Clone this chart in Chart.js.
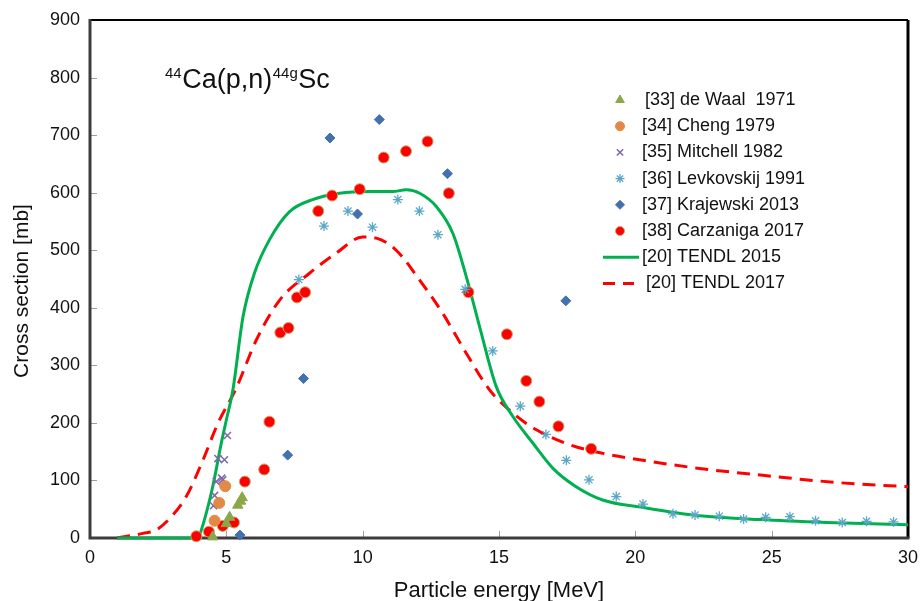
<!DOCTYPE html>
<html>
<head>
<meta charset="utf-8">
<title>44Ca(p,n)44gSc cross section</title>
<script src="https://cdn.jsdelivr.net/npm/chart.js@4.4.1/dist/chart.umd.min.js"></script>
<style>
  html, body { margin: 0; padding: 0; background: #fff; }
  #wrap { width: 921px; height: 601px; position: relative; }
</style>
</head>
<body>
<div id="wrap"><canvas id="xsChart"></canvas></div>
<script>
// tick labels
const energyTicks = [0, 5, 10, 15, 20, 25, 30];
const sigmaTicks = [0, 100, 200, 300, 400, 500, 600, 700, 800, 900];

// [33] de Waal 1971
const deWaalE = [4.50, 5.00, 5.12, 5.42, 5.52, 5.58];
const deWaalS = [2, 25, 36, 57, 64, 70];

// [34] Cheng 1979
const chengE = [4.57, 4.74, 4.96];
const chengS = [30, 61, 90];

// [35] Mitchell 1982
const mitchellE = [4.53, 4.57, 4.63, 4.83, 4.87, 4.69, 4.93, 5.04];
const mitchellS = [56, 74, 98, 104, 101, 138, 136, 178];

// [36] Levkovskij 1991
const levkE = [7.66, 8.58, 9.46, 10.36, 11.29, 12.08, 12.76, 13.76, 14.77, 15.78, 16.72, 17.47,
  18.30, 19.30, 20.28, 21.38, 22.19, 23.08, 23.97, 24.78, 25.67, 26.61, 27.59, 28.48, 29.47];
const levkS = [449, 542, 568, 540, 588, 568, 527, 432, 325, 229, 180, 135,
  101, 72, 59, 42, 40, 38, 33, 36, 37, 30, 27, 29, 28];

// [37] Krajewski 2013
const krajE = [5.50, 7.25, 7.83, 8.80, 9.81, 10.61, 13.11, 17.45];
const krajS = [5, 144, 277, 695, 563, 727, 633, 412];

// [38] Carzaniga 2017
const carzE = [3.90, 4.36, 4.87, 5.28, 5.68, 6.39, 6.58, 6.98, 7.28, 7.59, 7.89, 8.37,
  8.88, 9.89, 10.77, 11.59, 12.38, 13.16, 13.88, 15.29, 16.00, 16.48, 17.18, 18.38];
const carzS = [3, 11, 21, 27, 98, 119, 202, 357, 365, 418, 427, 568,
  595, 606, 661, 672, 689, 599, 427, 354, 273, 237, 194, 155];

// [20] TENDL 2015
const tendl15E = [1.0, 3.95, 4.04, 4.5, 4.79, 5.0, 5.24, 5.61, 6.03, 6.58, 7.32, 8.17, 9.15,
  10.25, 11.11, 11.6, 12.09, 12.7, 13.31, 13.8, 14.29, 14.9, 15.51, 16.24, 16.98, 17.8,
  18.8, 20.28, 22.1, 24.56, 27.0, 30.0];
const tendl15S = [0, 0, 8, 89, 159, 205, 257, 384, 460, 518, 567, 588, 599,
  602, 602, 605, 599, 576, 529, 454, 367, 263, 211, 165, 121, 90,
  66, 53, 40, 32, 27, 23];

// [20] TENDL 2017
const tendl17E = [1.0, 1.94, 2.43, 3.0, 3.53, 4.14, 4.69, 5.36, 6.1, 6.95, 8.05, 9.03, 10.0,
  10.5, 11.23, 12.09, 12.94, 13.8, 14.66, 15.51, 16.37, 17.59, 18.81, 20.16, 22.0, 25.05, 27.5, 30.0];
const tendl17S = [0, 8, 14, 38, 72, 135, 199, 260, 344, 413, 460, 495, 523,
  521, 500, 448, 390, 321, 257, 217, 188, 162, 147, 136, 123, 107, 96, 89];

const legendLabels = [
  '[33] de Waal  1971',
  '[34] Cheng 1979',
  '[35] Mitchell 1982',
  '[36] Levkovskij 1991',
  '[37] Krajewski 2013',
  '[38] Carzaniga 2017',
  '[20] TENDL 2015',
  '[20] TENDL 2017'
];

const fontFam = '"Liberation Sans", Arial, sans-serif';

function zip(xs, ys) {
  return xs.map((x, i) => ({ x: x, y: ys[i] }));
}

function pointSet(label, xs, ys, style, radius, fill, border, bw) {
  return {
    label: label,
    data: zip(xs, ys),
    pointStyle: style,
    pointRadius: radius,
    pointHoverRadius: radius,
    backgroundColor: fill,
    borderColor: border,
    pointBorderWidth: bw,
    showLine: false,
    clip: false,
    order: 0
  };
}

function lineSet(label, xs, ys, color, dash) {
  return {
    label: label,
    data: zip(xs, ys),
    showLine: true,
    borderColor: color,
    backgroundColor: color,
    borderWidth: 3,
    borderDash: dash,
    pointRadius: 0,
    cubicInterpolationMode: 'monotone',
    clip: false,
    order: 1
  };
}

const datasets = [
  pointSet(legendLabels[0], deWaalE, deWaalS, 'triangle', 6, '#8aa84a', '#8aa84a', 1),
  pointSet(legendLabels[1], chengE, chengS, 'circle', 5.5, '#e28a45', '#e28a45', 1),
  pointSet(legendLabels[2], mitchellE, mitchellS, 'crossRot', 5, '#7d68a8', '#7d68a8', 1.5),
  pointSet(legendLabels[3], levkE, levkS, 'star', 5, '#5aa7c6', '#5aa7c6', 1.3),
  pointSet(legendLabels[4], krajE, krajS, 'rectRot', 5, '#4470b0', '#4470b0', 1),
  pointSet(legendLabels[5], carzE, carzS, 'circle', 5.5, '#ff0000', '#c9a46a', 1),
  lineSet(legendLabels[6], tendl15E, tendl15S, '#00b050', []),
  lineSet(legendLabels[7], tendl17E, tendl17S, '#ff0000', [13, 8])
];

// frame, inner tick marks
const framePlugin = {
  id: 'frame',
  beforeDatasetsDraw(chart) {
    const ctx = chart.ctx;
    const a = chart.chartArea;
    const xs = chart.scales.x;
    const ys = chart.scales.y;
    ctx.save();
    ctx.strokeStyle = '#a0a0a0';
    ctx.lineWidth = 1;
    sigmaTicks.forEach(v => {
      if (v === 0 || v === 900) return;
      const py = Math.round(ys.getPixelForValue(v)) + 0.5;
      ctx.beginPath();
      ctx.moveTo(a.left, py);
      ctx.lineTo(a.left + 7, py);
      ctx.stroke();
    });
    energyTicks.forEach(v => {
      if (v === 0 || v === 30) return;
      const px = Math.round(xs.getPixelForValue(v)) + 0.5;
      ctx.beginPath();
      ctx.moveTo(px, a.bottom);
      ctx.lineTo(px, a.bottom - 7);
      ctx.stroke();
    });
    ctx.strokeStyle = '#000';
    ctx.lineWidth = 2;
    ctx.beginPath();
    ctx.moveTo(a.left, a.top);
    ctx.lineTo(a.right, a.top);
    ctx.stroke();
    ctx.lineWidth = 3;
    ctx.beginPath();
    ctx.moveTo(a.right, a.top);
    ctx.lineTo(a.right, a.bottom);
    ctx.stroke();
    ctx.strokeStyle = '#3c3c3c';
    ctx.beginPath();
    ctx.moveTo(a.left, a.top - 1);
    ctx.lineTo(a.left, a.bottom);
    ctx.lineTo(a.right + 1.5, a.bottom);
    ctx.stroke();
    ctx.restore();
  }
};

// reaction title, axis titles, legend
const textPlugin = {
  id: 'texts',
  afterDraw(chart) {
    const ctx = chart.ctx;
    ctx.save();
    ctx.fillStyle = '#111';

    // title with superscripts
    let x = 165;
    const base = 88;
    const parts = [['44', true], ['Ca(p,n)', false], ['44g', true], ['Sc', false]];
    ctx.textBaseline = 'alphabetic';
    ctx.textAlign = 'left';
    parts.forEach(p => {
      ctx.font = (p[1] ? '15px ' : '27px ') + fontFam;
      ctx.fillText(p[0], x, p[1] ? base - 10 : base);
      x += ctx.measureText(p[0]).width + 0.5;
    });

    // axis titles
    ctx.font = '21px ' + fontFam;
    ctx.textAlign = 'center';
    ctx.textBaseline = 'middle';
    ctx.save();
    ctx.translate(22, 291);
    ctx.rotate(-Math.PI / 2);
    ctx.fillText('Cross section [mb]', 0, 0);
    ctx.restore();
    ctx.font = '22px ' + fontFam;
    ctx.textBaseline = 'alphabetic';
    ctx.fillText('Particle energy [MeV]', 499, 597);

    // legend
    const y0 = 100;
    const step = 26.2;
    ctx.font = '18px ' + fontFam;
    ctx.textAlign = 'left';
    ctx.textBaseline = 'middle';
    chart.data.datasets.forEach((ds, i) => {
      const y = y0 + i * step;
      if (ds.showLine) {
        ctx.save();
        ctx.strokeStyle = ds.borderColor;
        ctx.lineWidth = 3;
        ctx.setLineDash(ds.borderDash.length ? [12, 8] : []);
        ctx.beginPath();
        ctx.moveTo(603, y);
        ctx.lineTo(ds.borderDash.length ? 634 : 639, y);
        ctx.stroke();
        ctx.restore();
      } else {
        const r = ds.pointStyle === 'triangle' ? 5 : 4.5;
        ctx.save();
        ctx.fillStyle = ds.backgroundColor;
        ctx.strokeStyle = ds.borderColor;
        ctx.lineWidth = ds.pointBorderWidth;
        Chart.helpers.drawPoint(ctx, {
          pointStyle: ds.pointStyle, radius: r, rotation: 0, borderWidth: ds.pointBorderWidth
        }, 620, y);
        ctx.restore();
      }
      ctx.fillStyle = '#111';
      const tx = i === 0 ? 645 : (i === 7 ? 646 : 642);
      ctx.fillText(legendLabels[i], tx, y);
    });
    ctx.restore();
  }
};

new Chart(document.getElementById('xsChart'), {
  type: 'scatter',
  data: { datasets: datasets },
  options: {
    responsive: true,
    maintainAspectRatio: false,
    animation: false,
    events: [],
    layout: { padding: { top: 20, right: 13, left: 0, bottom: 0 } },
    plugins: {
      legend: { display: false },
      tooltip: { enabled: false }
    },
    scales: {
      x: {
        type: 'linear',
        min: 0,
        max: 30,
        afterBuildTicks: s => { s.ticks = energyTicks.map(v => ({ value: v })); },
        afterFit: s => { s.height = 63; s.paddingLeft = 0; s.paddingRight = 0; },
        grid: { display: false, drawTicks: false },
        border: { display: false },
        ticks: { color: '#111', padding: 9, font: { family: fontFam, size: 18 } }
      },
      y: {
        type: 'linear',
        min: 0,
        max: 900,
        afterBuildTicks: s => { s.ticks = sigmaTicks.map(v => ({ value: v })); },
        afterFit: s => { s.width = 90; s.paddingTop = 0; s.paddingBottom = 0; },
        grid: { display: false, drawTicks: false },
        border: { display: false },
        ticks: { color: '#111', padding: 10, font: { family: fontFam, size: 18 } }
      }
    }
  },
  plugins: [framePlugin, textPlugin]
});
</script>
</body>
</html>
